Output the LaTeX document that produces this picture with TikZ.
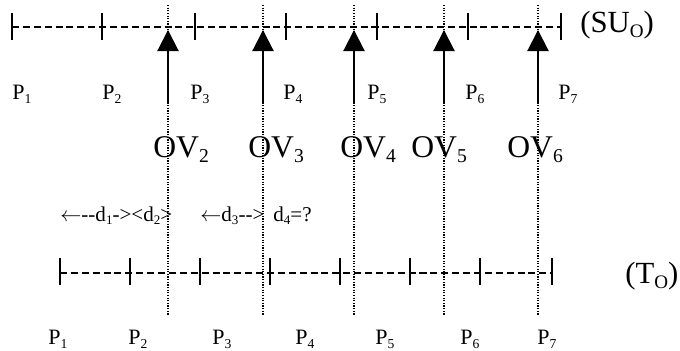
\documentclass[tikz,border=0pt]{standalone}
\usepackage{fontspec}
\setmainfont{Liberation Serif}
\usepackage{graphicx}
\usepackage{tikz}
\usetikzlibrary{arrows.meta}
\newcommand{\lo}[1]{\raisebox{-0.3ex}{\scalebox{0.62}{#1}}}

\begin{document}
\begin{tikzpicture}[x=0.02cm, y=-0.02cm,
    tck/.style={line width=1.2pt},
    dashln/.style={line width=1.2pt, dash pattern=on 4pt off 2.2pt},
    dotln/.style={line width=0.7pt, dash pattern=on 0.7pt off 0.8pt},
    arr/.style={-{Triangle[width=12pt, length=12pt]}, line width=1.2pt},
    plbl/.style={font=\fontsize{12.5}{14}\selectfont, inner sep=0pt, anchor=base west},
    ovlbl/.style={font=\fontsize{18}{22}\selectfont, inner sep=0pt, anchor=base west},
    axlbl/.style={font=\fontsize{17.5}{20}\selectfont, inner sep=0pt, anchor=base west},
    dlbl/.style={font=\fontsize{12}{14}\selectfont, inner sep=0pt, anchor=base west},
]
\useasboundingbox (0,0) rectangle (680,351);

% upper line (SU_O)
\coordinate (su1) at (12,27);
\coordinate (su7) at (561,27);
\draw[dashln] (su1) -- (su7);
\draw[tck] (12,13) -- (12,40) (102,13) -- (102,40) (195,13) -- (195,40)
    (286,13) -- (286,40) (377,13) -- (377,40) (468,13) -- (468,40) (561,13) -- (561,40);
\node[axlbl] (su) at (580,33) {(SU\lo{O})};

% lower line (T_O)
\coordinate (to1) at (60,273);
\coordinate (to8) at (552,273);
\draw[dashln] (to1) -- (to8);
\draw[tck] (60,258) -- (60,285) (130,258) -- (130,285) (200,258) -- (200,285)
    (270,258) -- (270,285) (340,258) -- (340,285) (410,258) -- (410,285)
    (480,258) -- (480,285) (552,258) -- (552,285);
\node[axlbl] (to) at (625,284) {(T\lo{O})};

% dotted verticals
\draw[dotln] (168,5) -- (168,315);
\draw[dotln] (263,5) -- (263,315);
\draw[dotln] (354,5) -- (354,315);
\draw[dotln] (444,5) -- (444,315);
\draw[dotln] (538,5) -- (538,315);

% arrows
\coordinate (a2) at (168,104); \coordinate (h2) at (168,30);
\coordinate (a3) at (263,104); \coordinate (h3) at (263,30);
\coordinate (a4) at (354,104); \coordinate (h4) at (354,30);
\coordinate (a5) at (444,104); \coordinate (h5) at (444,30);
\coordinate (a6) at (538,104); \coordinate (h6) at (538,30);
\draw[arr] (a2) -- (h2);
\draw[arr] (a3) -- (h3);
\draw[arr] (a4) -- (h4);
\draw[arr] (a5) -- (h5);
\draw[arr] (a6) -- (h6);

% upper P labels
\node[plbl] (up1) at (12,100) {P\lo{1}};
\node[plbl] (up2) at (102,100) {P\lo{2}};
\node[plbl] (up3) at (190,100) {P\lo{3}};
\node[plbl] (up4) at (283,100) {P\lo{4}};
\node[plbl] (up5) at (367,100) {P\lo{5}};
\node[plbl] (up6) at (465,100) {P\lo{6}};
\node[plbl] (up7) at (558,100) {P\lo{7}};

% OV labels
\node[ovlbl] (ov2) at (153,158) {OV\lo{2}};
\node[ovlbl] (ov3) at (248,158) {OV\lo{3}};
\node[ovlbl] (ov4) at (340,158) {OV\lo{4}};
\node[ovlbl] (ov5) at (411,158) {OV\lo{5}};
\node[ovlbl] (ov6) at (507,158) {OV\lo{6}};

% distances
\node[dlbl] (d12) at (60,222) {$\leftarrow${-}{-}d\lo{1}->{}<d\lo{2}>};
\node[dlbl] (d3) at (200,222) {$\leftarrow$d\lo{3}{-}{-}>};
\node[dlbl] (d4) at (273,222) {d\lo{4}=?};

% lower P labels
\node[plbl] (lp1) at (48,345) {P\lo{1}};
\node[plbl] (lp2) at (128,345) {P\lo{2}};
\node[plbl] (lp3) at (212,345) {P\lo{3}};
\node[plbl] (lp4) at (295,345) {P\lo{4}};
\node[plbl] (lp5) at (375,345) {P\lo{5}};
\node[plbl] (lp6) at (460,345) {P\lo{6}};
\node[plbl] (lp7) at (537,345) {P\lo{7}};
\end{tikzpicture}
\end{document}
